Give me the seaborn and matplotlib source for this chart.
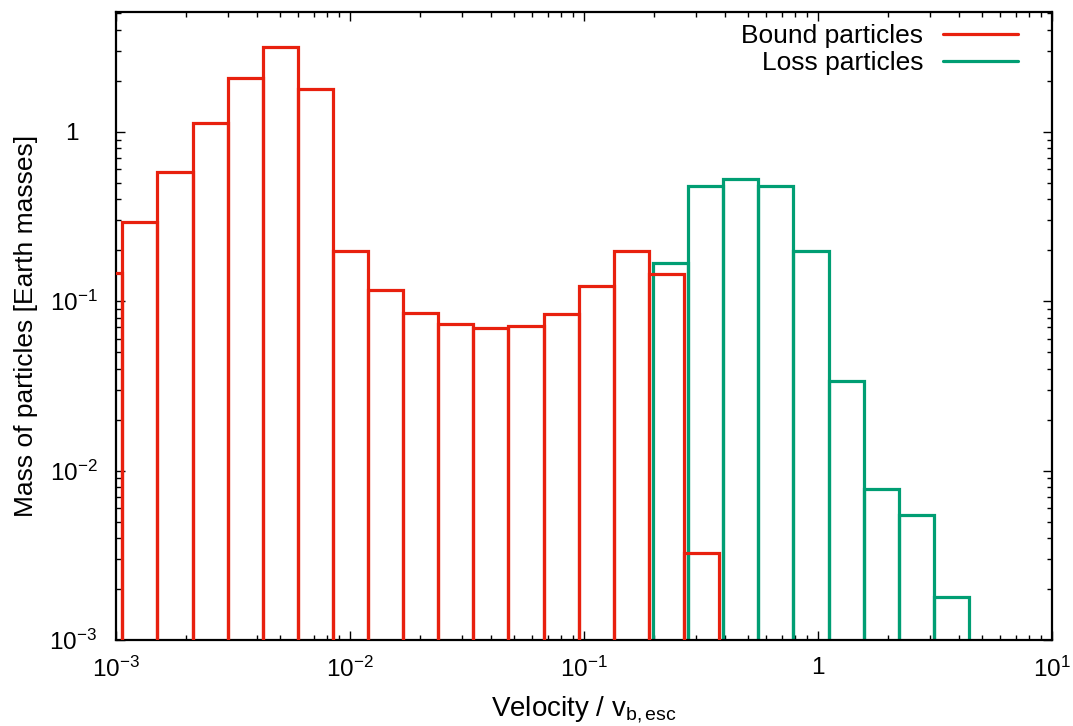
import numpy as np
import pandas as pd
import matplotlib
matplotlib.use("Agg")
import matplotlib.pyplot as plt
import matplotlib.transforms as mtransforms
import seaborn as sns
from matplotlib.lines import Line2D
from matplotlib.ticker import LogLocator, FixedLocator, FixedFormatter, NullFormatter

# ---- data ----
# bin edges (velocity / v_b,esc), log-spaced by 0.15 dex
bound_edges = [7.534e-4, 1.064e-3, 1.503e-3, 2.123e-3, 2.999e-3, 4.236e-3, 5.984e-3,
               8.453e-3, 1.194e-2, 1.687e-2, 2.382e-2, 3.365e-2, 4.753e-2, 6.714e-2,
               9.484e-2, 0.1340, 0.1892, 0.2673, 0.3776]
bound_mass = [0.146, 0.294, 0.583, 1.127, 2.07, 3.17, 1.80, 0.1985, 0.1168, 0.0851,
              0.0735, 0.0693, 0.0716, 0.0842, 0.1228, 0.1993, 0.145, 0.00325]

loss_edges = [0.1973, 0.2787, 0.3937, 0.5562, 0.7857, 1.110, 1.568, 2.214, 3.128, 4.419]
loss_mass = [0.168, 0.480, 0.528, 0.476, 0.1993, 0.0339, 0.00783, 0.00545, 0.0018]

x_ticks = [1e-3, 1e-2, 1e-1, 1, 10]
x_ticklabels = [r"$\mathregular{10^{-3}}$", r"$\mathregular{10^{-2}}$",
                r"$\mathregular{10^{-1}}$", "1", r"$\mathregular{10^{1}}$"]
y_ticks = [1e-3, 1e-2, 1e-1, 1]
y_ticklabels = [r"$\mathregular{10^{-3}}$", r"$\mathregular{10^{-2}}$",
                r"$\mathregular{10^{-1}}$", "1"]

RED = "#e8200e"
GREEN = "#009e73"

sns.set_theme(style="ticks")
plt.rcParams["font.family"] = ["Liberation Sans", "DejaVu Sans"]
plt.rcParams["mathtext.fontset"] = "custom"
plt.rcParams["mathtext.rm"] = "Liberation Sans"
plt.rcParams["mathtext.it"] = "Liberation Sans"
plt.rcParams["text.color"] = "black"
plt.rcParams["axes.labelcolor"] = "black"

TICK_FS = 17.5
LEG_FS = 19
XLAB_FS = 20
YLAB_FS = 19

fig = plt.figure(figsize=(10.73, 7.26), dpi=100)
AX_L, AX_R, AX_T, AX_B = 116, 1052, 12, 640
ax = fig.add_axes([AX_L / 1073, (726 - AX_B) / 726, (AX_R - AX_L) / 1073, (AX_B - AX_T) / 726])


def make_df(edges, mass):
    e = np.log10(np.asarray(edges))
    centers = 10 ** ((e[:-1] + e[1:]) / 2)
    return pd.DataFrame({"v": centers, "m": mass}), [float(v) for v in e]


df_l, e_l = make_df(loss_edges, loss_mass)
df_b, e_b = make_df(bound_edges, bound_mass)

sns.histplot(data=df_l, x="v", weights="m", bins=e_l, log_scale=True,
             fill=False, element="bars", color=GREEN, linewidth=2.3, ax=ax, zorder=2)
sns.histplot(data=df_b, x="v", weights="m", bins=e_b, log_scale=True,
             fill=False, element="bars", color=RED, linewidth=2.3, ax=ax, zorder=3)

ax.set_yscale("log")
ax.set_xlim(1e-3, 10)
ax.set_ylim(1e-3, 5.1)

ax.xaxis.set_major_locator(FixedLocator(x_ticks))
ax.xaxis.set_major_formatter(FixedFormatter(x_ticklabels))
ax.xaxis.set_minor_locator(LogLocator(base=10, subs=np.arange(2, 10), numticks=20))
ax.xaxis.set_minor_formatter(NullFormatter())
ax.yaxis.set_major_locator(FixedLocator(y_ticks))
ax.yaxis.set_major_formatter(FixedFormatter(y_ticklabels))
ax.yaxis.set_minor_locator(LogLocator(base=10, subs=np.arange(2, 10), numticks=20))
ax.yaxis.set_minor_formatter(NullFormatter())

ax.tick_params(which="both", direction="in", top=True, right=True, colors="black",
               width=1.0, labelsize=TICK_FS)
ax.tick_params(which="major", length=6.5)
ax.tick_params(which="minor", length=3.3)
ax.tick_params(axis="x", which="major", pad=12)
ax.tick_params(axis="y", which="major", pad=13.5)
for s in ax.spines.values():
    s.set_linewidth(1.6)
    s.set_color("black")

# gnuplot aligns the mantissa "10" with plain "1": shift the "1" label left
yticks_major = ax.yaxis.get_major_ticks()
one_lab = yticks_major[3].label1
one_lab.set_transform(one_lab.get_transform() +
                      mtransforms.ScaledTranslation(-0.19, 0, fig.dpi_scale_trans))

ax.set_xlabel(r"Velocity / v$_\mathregular{b,esc}$", fontsize=XLAB_FS)
ax.set_ylabel("Mass of particles [Earth masses]", fontsize=YLAB_FS)
ax.xaxis.set_label_coords(0.5, (AX_B - 694) / (AX_B - AX_T))
ax.yaxis.set_label_coords((38 - AX_L) / (AX_R - AX_L), 0.5)

handles = [Line2D([], [], color=RED, lw=2.3), Line2D([], [], color=GREEN, lw=2.3)]
ax.legend(handles, ["Bound particles", "Loss particles"], loc="upper right",
          bbox_to_anchor=((1018 - AX_L) / (AX_R - AX_L), (AX_B - 24) / (AX_B - AX_T)),
          frameon=False, markerfirst=False, fontsize=LEG_FS, borderpad=0,
          borderaxespad=0, handlelength=2.85, handletextpad=0.75, labelspacing=0.12)

fig.savefig("out.png", dpi=100)
